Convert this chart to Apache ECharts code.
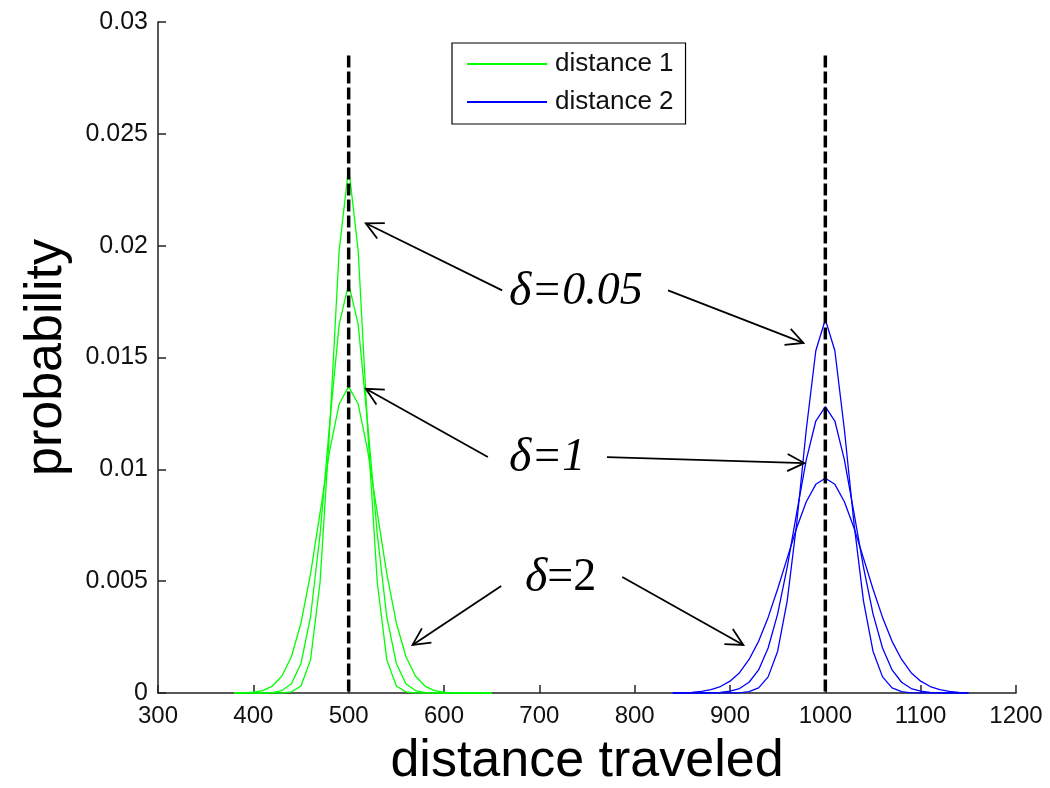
<!DOCTYPE html>
<html>
<head>
<meta charset="utf-8">
<script src="https://cdn.jsdelivr.net/npm/echarts@6/dist/echarts.min.js"></script>
<style>
  html, body { margin: 0; padding: 0; background: #fff; }
  #main { width: 1050px; height: 788px; }
</style>
</head>
<body>
<div id="main"></div>
<script>
// distance 1 (green), sampled every 10 from 380 to 650
var d1X = [380, 390, 400, 410, 420, 430, 440, 450, 460, 470, 480, 490, 500, 510,
           520, 530, 540, 550, 560, 570, 580, 590, 600, 610, 620, 630, 640, 650];
var d1Narrow = [0, 0, 0, 0, 0, 0, 0.00005, 0.00031, 0.00148, 0.00495, 0.01176, 0.01977, 0.0235, 0.01977,
                0.01176, 0.00495, 0.00148, 0.00031, 0.00005, 0, 0, 0, 0, 0, 0, 0, 0, 0];
var d1Mid = [0, 0, 0, 0, 0.00002, 0.00011, 0.00041, 0.00132, 0.0034, 0.0071, 0.01201, 0.01647, 0.0183, 0.01647,
             0.01201, 0.0071, 0.0034, 0.00132, 0.00041, 0.00011, 0.00002, 0, 0, 0, 0, 0, 0, 0];
var d1Wide = [0, 0.00001, 0.00004, 0.00011, 0.00031, 0.00076, 0.00163, 0.00313, 0.00533, 0.00805, 0.01082, 0.01292, 0.0137, 0.01292,
              0.01082, 0.00805, 0.00533, 0.00313, 0.00163, 0.00076, 0.00031, 0.00011, 0.00004, 0.00001, 0, 0, 0, 0];

// distance 2 (blue), sampled every 10 from 840 to 1150
var d2X = [840, 850, 860, 870, 880, 890, 900, 910, 920, 930, 940, 950, 960, 970, 980, 990, 1000,
           1010, 1020, 1030, 1040, 1050, 1060, 1070, 1080, 1090, 1100, 1110, 1120, 1130, 1140, 1150];
var d2Narrow = [0, 0, 0, 0, 0, 0, 0, 0.00001, 0.00006, 0.00023, 0.00072, 0.00187, 0.00412, 0.0076, 0.01177, 0.0153, 0.0167,
                0.0153, 0.01177, 0.0076, 0.00412, 0.00187, 0.00072, 0.00023, 0.00006, 0.00001, 0, 0, 0, 0, 0, 0];
var d2Mid = [0, 0, 0, 0, 0.00001, 0.00003, 0.00008, 0.0002, 0.00048, 0.00103, 0.00201, 0.00354, 0.00563, 0.00806, 0.01042, 0.01216, 0.0128,
             0.01216, 0.01042, 0.00806, 0.00563, 0.00354, 0.00201, 0.00103, 0.00048, 0.0002, 0.00008, 0.00003, 0.00001, 0, 0, 0];
var d2Wide = [0, 0.00001, 0.00003, 0.00007, 0.00015, 0.00029, 0.00053, 0.00091, 0.0015, 0.00231, 0.00338, 0.00465, 0.00603, 0.00739, 0.00855, 0.00933, 0.0096,
              0.00933, 0.00855, 0.00739, 0.00603, 0.00465, 0.00338, 0.00231, 0.0015, 0.00091, 0.00053, 0.00029, 0.00015, 0.00007, 0.00003, 0.00001];

// dashed reference lines (means)
var meanX = [500, 1000];
var meanTop = 0.0285;

// annotations: text and arrows [fromX, fromY, toX, toY] in data units
var notes = [
  { text: 'δ', rest: '=0.05', restItalic: true, left: 509, mid: 292 },
  { text: 'δ', rest: '=1', restItalic: true, left: 509, mid: 458 },
  { text: 'δ', rest: '=2', restItalic: false, left: 525, mid: 578 }
];
var arrows = [
  [661, 0.0180, 518, 0.0210],
  [835, 0.0180, 977, 0.01565],
  [646, 0.01055, 518, 0.0136],
  [771, 0.01055, 978, 0.01028],
  [660, 0.00478, 567, 0.00215],
  [787, 0.00519, 914, 0.00215]
];

function pairs(xs, ys) {
  var out = [];
  for (var i = 0; i < xs.length; i++) out.push([xs[i], ys[i]]);
  return out;
}

function curve(name, color, xs, ys) {
  return {
    name: name,
    type: 'line',
    data: pairs(xs, ys),
    showSymbol: false,
    symbol: 'none',
    lineStyle: { color: color, width: 1.3 },
    itemStyle: { color: color },
    z: 2
  };
}

var series = [
  curve('distance 1', '#00ff00', d1X, d1Narrow),
  curve('distance 1', '#00ff00', d1X, d1Mid),
  curve('distance 1', '#00ff00', d1X, d1Wide),
  curve('distance 2', '#0000ff', d2X, d2Narrow),
  curve('distance 2', '#0000ff', d2X, d2Mid),
  curve('distance 2', '#0000ff', d2X, d2Wide)
];
for (var m = 0; m < meanX.length; m++) {
  series.push({
    name: 'mean' + m,
    type: 'line',
    data: [[meanX[m], meanTop], [meanX[m], 0]],
    symbol: 'none',
    lineStyle: { color: '#000', width: 3.5, type: [12, 4] },
    z: 5
  });
}

var font = '"Liberation Sans", Arial, sans-serif';
var chart = echarts.init(document.getElementById('main'));
option = {
  animation: false,
  backgroundColor: '#fff',
  grid: { left: 158, right: 34, top: 22, bottom: 95, outerBoundsMode: 'none' },
  legend: {
    data: ['distance 1', 'distance 2'],
    orient: 'vertical',
    left: 452,
    top: 43,
    icon: 'rect',
    itemWidth: 80,
    itemHeight: 2,
    itemGap: 12,
    padding: [8, 12, 9, 15],
    borderColor: '#000',
    borderWidth: 1.2,
    backgroundColor: '#fff',
    selectedMode: false,
    textStyle: { fontFamily: font, fontSize: 26, color: '#111', lineHeight: 25, padding: [0, 0, 0, 3] }
  },
  xAxis: {
    type: 'value',
    min: 300,
    max: 1200,
    interval: 100,
    name: 'distance traveled',
    nameLocation: 'middle',
    nameGap: 43,
    nameTextStyle: { fontFamily: font, fontSize: 52, color: '#000' },
    axisLine: { lineStyle: { color: '#222', width: 1.5 } },
    axisTick: { inside: true, length: 8, lineStyle: { color: '#222', width: 1.5 } },
    axisLabel: {
      fontFamily: font, fontSize: 24, color: '#111', margin: 11,
      formatter: function (v) { return String(v); }
    },
    splitLine: { show: false }
  },
  yAxis: {
    type: 'value',
    min: 0,
    max: 0.03,
    interval: 0.005,
    name: 'probability',
    nameLocation: 'middle',
    nameGap: 85,
    nameTextStyle: { fontFamily: font, fontSize: 52, color: '#000' },
    axisLine: { show: true, lineStyle: { color: '#222', width: 1.5 } },
    axisTick: { show: true, inside: true, length: 8, lineStyle: { color: '#222', width: 1.5 } },
    axisLabel: {
      fontFamily: font, fontSize: 25, color: '#111', margin: 10,
      formatter: function (v) { return v === 0 ? '0' : String(+v.toFixed(3)); }
    },
    splitLine: { show: false }
  },
  series: series
};
chart.setOption(option);

// annotations drawn on top
var graphics = [];
var serif = '"Liberation Serif", "Times New Roman", serif';
notes.forEach(function (n) {
  graphics.push({
    type: 'text',
    x: n.left,
    y: n.mid,
    z: 20,
    style: {
      text: '{d|' + n.text + '}{r|' + n.rest + '}',
      verticalAlign: 'middle',
      rich: {
        d: { font: 'italic 48px ' + serif, fill: '#000' },
        r: { font: (n.restItalic ? 'italic ' : '') + '46px ' + serif, fill: '#000' }
      }
    }
  });
});
arrows.forEach(function (a) {
  var p0 = chart.convertToPixel({ gridIndex: 0 }, [a[0], a[1]]);
  var p1 = chart.convertToPixel({ gridIndex: 0 }, [a[2], a[3]]);
  var ang = Math.atan2(p0[1] - p1[1], p0[0] - p1[0]);
  var len = 19, spread = 0.47;
  var w1 = [p1[0] + len * Math.cos(ang + spread), p1[1] + len * Math.sin(ang + spread)];
  var w2 = [p1[0] + len * Math.cos(ang - spread), p1[1] + len * Math.sin(ang - spread)];
  graphics.push({
    type: 'polyline', z: 20,
    shape: { points: [p0, p1] },
    style: { stroke: '#000', lineWidth: 1.8, fill: null }
  });
  graphics.push({
    type: 'polyline', z: 20,
    shape: { points: [w1, p1, w2] },
    style: { stroke: '#000', lineWidth: 1.8, fill: null }
  });
});
chart.setOption({ graphic: graphics });
</script>
</body>
</html>
